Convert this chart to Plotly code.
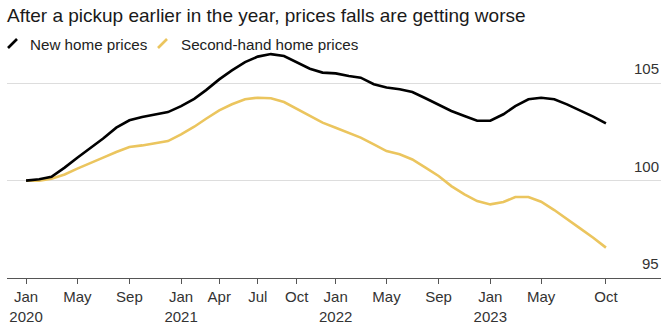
import plotly.graph_objects as go
import pandas as pd

months = pd.date_range("2020-01-01", "2023-10-01", freq="MS")

new_home = [100.0, 100.07, 100.2, 100.67, 101.18, 101.69, 102.16, 102.72, 103.1, 103.27, 103.39, 103.52,
            103.83, 104.2, 104.65, 105.2, 105.66, 106.09, 106.37, 106.5, 106.4, 106.06, 105.75, 105.55,
            105.51, 105.37, 105.29, 104.95, 104.78, 104.69, 104.55, 104.23, 103.92, 103.58, 103.32, 103.08,
            103.08, 103.41, 103.83, 104.18, 104.26, 104.18, 103.92, 103.61, 103.29, 102.94]

second_hand = [100.0, 100.0, 100.1, 100.32, 100.62, 100.89, 101.18, 101.47, 101.73, 101.81, 101.92, 102.03,
               102.38, 102.77, 103.18, 103.61, 103.92, 104.18, 104.26, 104.23, 104.04, 103.7, 103.32, 102.98,
               102.72, 102.43, 102.21, 101.86, 101.52, 101.35, 101.09, 100.67, 100.24, 99.72, 99.3, 98.95,
               98.78, 98.9, 99.16, 99.16, 98.92, 98.49, 98.01, 97.55, 97.07, 96.56]

tick_dates = ["2020-01-01", "2020-05-01", "2020-09-01", "2021-01-01", "2021-04-01", "2021-07-01",
              "2021-10-01", "2022-01-01", "2022-05-01", "2022-09-01", "2023-01-01", "2023-05-01", "2023-10-01"]
tick_labels = ["Jan<br>2020", "May", "Sep", "Jan<br>2021", "Apr", "Jul", "Oct",
               "Jan<br>2022", "May", "Sep", "Jan<br>2023", "May", "Oct"]

y_ticks = [95, 100, 105]

BLACK = "#000000"
YELLOW = "#EBC55E"
FONT = "Arial, Liberation Sans, sans-serif"

ML, MR, MT, MB = 7, 5, 50, 52
W, H = 666, 330
PW, PH = W - ML - MR, H - MT - MB

fig = go.Figure()
fig.add_trace(go.Scatter(x=months, y=second_hand, mode="lines", name="Second-hand home prices",
                         line=dict(color=YELLOW, width=2.6)))
fig.add_trace(go.Scatter(x=months, y=new_home, mode="lines", name="New home prices",
                         line=dict(color=BLACK, width=2.6)))

fig.update_layout(
    width=W, height=H,
    margin=dict(l=ML, r=MR, t=MT, b=MB, autoexpand=False),
    paper_bgcolor="white", plot_bgcolor="white",
    showlegend=False,
    font=dict(family=FONT, size=15, color="#333333"),
    xaxis=dict(
        range=["2019-11-17", "2024-02-08"],
        tickvals=tick_dates, ticktext=tick_labels,
        showgrid=False, zeroline=False, automargin=False,
        showline=True, linecolor="#555555", linewidth=1,
        ticks="outside", ticklen=5, tickcolor="#555555",
        tickfont=dict(size=15, color="#333333"),
    ),
    yaxis=dict(
        range=[95, 106.71],
        tickvals=y_ticks,
        showticklabels=False,
        showgrid=True, gridcolor="#dddddd", gridwidth=1,
        zeroline=False, showline=False, ticks="", automargin=False,
    ),
)

for v in y_ticks:
    fig.add_annotation(text=str(v), xref="paper", yref="y", x=1.0, y=v, xanchor="right",
                       yanchor="bottom", yshift=4, showarrow=False,
                       font=dict(size=15, color="#333333", family=FONT))

fig.add_annotation(text="After a pickup earlier in the year, prices falls are getting worse",
                   xref="paper", yref="paper", x=-2 / PW, y=1.0, yshift=MT - 15, xanchor="left",
                   yanchor="middle", showarrow=False, font=dict(size=19, color="#1a1a1a", family=FONT))

legend_items = [("New home prices", BLACK, 8, 28), ("Second-hand home prices", YELLOW, 158, 179)]
for label, color, sx, tx in legend_items:
    fig.add_annotation(text=label, xref="paper", yref="paper", x=(tx - ML) / PW, y=1.0, yshift=MT - 44,
                       xanchor="left", yanchor="middle", showarrow=False,
                       font=dict(size=15.2, color="#222222", family=FONT))
    fig.add_shape(type="line", xref="paper", yref="paper",
                  x0=(sx - ML) / PW, x1=(sx + 9 - ML) / PW,
                  y0=(H - MB - 48) / PH, y1=(H - MB - 39) / PH,
                  line=dict(color=color, width=2.6))

fig.write_html("out.html", config={"displayModeBar": False},
               post_script="document.body.style.margin='0';document.body.style.padding='0';")
